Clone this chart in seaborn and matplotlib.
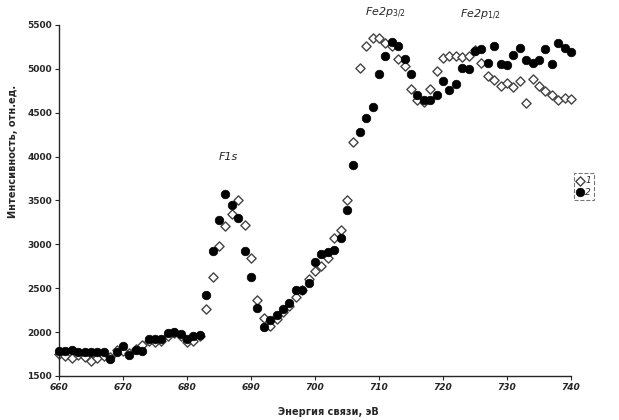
import numpy as np
import pandas as pd
import matplotlib
matplotlib.use("Agg")
import matplotlib.pyplot as plt
import seaborn as sns

# binding energy, eV (1 eV step)
energy = list(range(660, 741))

# series 1 (open diamonds)
series_1 = [1750, 1730, 1700, 1740, 1720, 1670, 1700, 1730, 1720, 1800,
            1790, 1760, 1810, 1850, 1900, 1890, 1900, 1950, 1990, 1950,
            1890, 1900, 1960, 2260, 2625, 2980, 3205, 3350, 3510, 3220,
            2845, 2365, 2160, 2070, 2150, 2230, 2300, 2400, 2480, 2600,
            2700, 2750, 2840, 3076, 3160, 3500, 4170, 5015, 5261, 5356,
            5356, 5300, 5260, 5110, 5030, 4770, 4640, 4620, 4770, 4980,
            5120, 5150, 5150, 5130, 5150, 5220, 5070, 4920, 4870, 4810,
            4840, 4790, 4860, 4610, 4880, 4800, 4750, 4700, 4640, 4670,
            4655]

# series 2 (filled circles)
series_2 = [1780, 1780, 1795, 1775, 1775, 1775, 1775, 1775, 1690, 1775,
            1845, 1740, 1795, 1790, 1920, 1920, 1920, 1985, 2005, 1975,
            1925, 1950, 1970, 2420, 2920, 3273, 3576, 3443, 3300, 2930,
            2630, 2270, 2060, 2140, 2200, 2260, 2330, 2485, 2485, 2555,
            2800, 2885, 2910, 2935, 3075, 3395, 3900, 4285, 4435, 4565,
            4940, 5150, 5310, 5260, 5110, 4940, 4705, 4650, 4650, 4705,
            4860, 4755, 4825, 5015, 5000, 5205, 5225, 5070, 5260, 5055,
            5045, 5160, 5235, 5100, 5070, 5100, 5225, 5055, 5290, 5235,
            5195]

peak_labels = ["F1s", "Fe2p$_{3/2}$", "Fe2p$_{1/2}$"]
peak_pos = [(686.4, 4000), (711.0, 5640), (725.8, 5620)]

df = pd.DataFrame({"E": energy * 2,
                   "I": series_1 + series_2,
                   "s": ["1"] * len(energy) + ["2"] * len(energy)})

sns.set_style("ticks")
plt.rcParams["font.family"] = ["DejaVu Sans"]

fig = plt.figure(figsize=(6.19, 4.20), dpi=100)
ax = fig.add_axes([0.0953, 0.1048, 0.8272, 0.8357])

d1 = df[df["s"] == "1"]
d2 = df[df["s"] == "2"]
sns.scatterplot(data=d1, x="E", y="I", marker="D", s=22, facecolor="white",
                edgecolor="#444444", linewidth=1.0, ax=ax, label="1", zorder=2,
                clip_on=False)
sns.scatterplot(data=d2, x="E", y="I", marker="o", s=38, color="black",
                edgecolor="black", linewidth=0.5, ax=ax, label="2", zorder=3,
                clip_on=False)

ax.set_xlim(660, 740)
ax.set_ylim(1500, 5500)
ax.set_xticks(range(660, 741, 10))
ax.set_yticks(range(1500, 5501, 500))
ax.set_xlabel("")
ax.set_ylabel("")
for lab in ax.get_xticklabels():
    lab.set_fontsize(6.5)
    lab.set_fontweight("bold")
    lab.set_fontstyle("italic")
for lab in ax.get_yticklabels():
    lab.set_fontsize(6.5)
    lab.set_fontweight("bold")
ax.tick_params(length=3, width=0.8, pad=2)
sns.despine(ax=ax)
for sp in ["left", "bottom"]:
    ax.spines[sp].set_linewidth(1.0)

for txt, (x, y) in zip(peak_labels, peak_pos):
    ax.text(x, y, txt, fontsize=8, style="italic", ha="center", va="center",
            clip_on=False)

leg = ax.legend(loc="center left", bbox_to_anchor=(1.005, 0.54), fontsize=6.5,
                frameon=True, handletextpad=0.2, borderpad=0.3,
                labelspacing=0.3, handlelength=0.8, borderaxespad=0)
leg.get_frame().set_edgecolor("#555555")
leg.get_frame().set_linestyle("--")
leg.get_frame().set_linewidth(0.8)
leg.get_frame().set_boxstyle("square", pad=0)
for t in leg.get_texts():
    t.set_fontstyle("italic")

fig.text(328 / 619, 1 - 412 / 420, "Энергия связи, эВ", fontsize=7,
         fontweight="bold", ha="center", va="center")
fig.text(13 / 619, 1 - 151 / 420, "Интенсивность, отн.ед.", fontsize=7,
         fontweight="bold", rotation=90, ha="center", va="center")

fig.savefig("out.png", dpi=100)
